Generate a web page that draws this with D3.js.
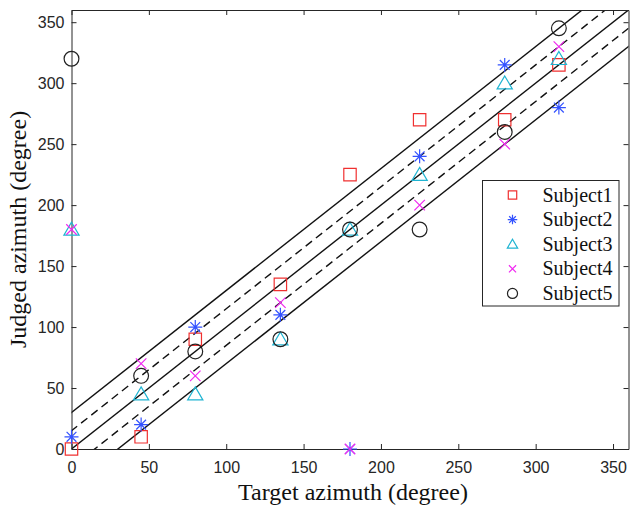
<!DOCTYPE html>
<html>
<head>
<meta charset="utf-8">
<script src="https://cdn.jsdelivr.net/npm/d3@7"></script>
<style>
  body { margin: 0; background: #fff; }
  .tick text { font-family: "Liberation Sans", Arial, sans-serif; font-size: 16px; fill: #262626; }
  .axis path, .axis line { stroke: #262626; stroke-width: 1; }
</style>
</head>
<body>
<svg width="630" height="509"></svg>
<script>
// target azimuths (x) and judged azimuths per subject (y)
const targets = [0, 45, 80, 135, 180, 225, 280, 315];
const subject1 = [0, 10, 90, 135, 225, 270, 270, 315];
const subject2 = [10, 20, 100, 110, 0, 240, 315, 280];
const subject3 = [180, 45, 45, 90, 180, 225, 300, 320];
const subject4 = [180, 70, 60, 120, 0, 200, 250, 330];
const subject5 = [320, 60, 80, 90, 180, 180, 260, 345];
const subjectNames = ["Subject1", "Subject2", "Subject3", "Subject4", "Subject5"];
const xTicks = [0, 50, 100, 150, 200, 250, 300, 350];
const yTicks = [0, 50, 100, 150, 200, 250, 300, 350];
// reference lines y = x + offset
const lineOffsets = [-30, -15, 0, 15, 30];
const lineDashed = [false, true, false, true, false];

const svg = d3.select("svg");

const x = d3.scaleLinear().domain([0, 360]).range([71.5, 628.5]);
const y = d3.scaleLinear().domain([0, 360]).range([449, 10]);

// clip for the reference lines
svg.append("defs").append("clipPath").attr("id", "plotClip")
  .append("rect")
  .attr("x", x(0)).attr("y", y(360))
  .attr("width", x(360) - x(0)).attr("height", y(0) - y(360));

const lines = svg.append("g").attr("clip-path", "url(#plotClip)");
lineOffsets.forEach((off, i) => {
  lines.append("line")
    .attr("x1", x(-40)).attr("y1", y(-40 + off))
    .attr("x2", x(400)).attr("y2", y(400 + off))
    .attr("stroke", "#111")
    .attr("stroke-width", 1.4)
    .attr("stroke-dasharray", lineDashed[i] ? "8,5" : null);
});

// axes, ticks pointing inward
svg.append("g").attr("class", "axis")
  .attr("transform", `translate(0,${y(0)})`)
  .call(d3.axisBottom(x).tickValues(xTicks).tickSize(-5).tickSizeOuter(0).tickPadding(13));
svg.append("g").attr("class", "axis")
  .attr("transform", `translate(${x(0)},0)`)
  .call(d3.axisLeft(y).tickValues(yTicks).tickSize(-5).tickSizeOuter(0).tickPadding(7));
svg.append("g").attr("class", "axis")
  .attr("transform", `translate(0,${y(360)})`)
  .call(d3.axisTop(x).tickValues(xTicks).tickSize(-5).tickSizeOuter(0).tickFormat(""));
svg.append("g").attr("class", "axis")
  .attr("transform", `translate(${x(360)},0)`)
  .call(d3.axisRight(y).tickValues(yTicks).tickSize(-5).tickSizeOuter(0).tickFormat(""));

// marker shapes, s = half size
const markers = [
  { color: "#f03030", path: s => `M${-s},${-s}H${s}V${s}H${-s}Z` },
  { color: "#3352ff", path: s => `M0,${-s}V${s}M${-s},0H${s}M${-s*0.7},${-s*0.7}L${s*0.7},${s*0.7}M${-s*0.7},${s*0.7}L${s*0.7},${-s*0.7}` },
  { color: "#1fb4d2", path: s => `M0,${-s*0.95}L${s},${s*0.75}H${-s}Z` },
  { color: "#f028f0", path: s => `M${-s*0.75},${-s*0.75}L${s*0.75},${s*0.75}M${-s*0.75},${s*0.75}L${s*0.75},${-s*0.75}` },
  { color: "#222", path: s => `M${-s},0A${s},${s} 0 1,0 ${s},0A${s},${s} 0 1,0 ${-s},0Z` }
];
const markerSize = [6.2, 7, 7.6, 7, 7.4];
const series = [subject1, subject2, subject3, subject4, subject5];

series.forEach((vals, k) => {
  svg.append("g").selectAll("path")
    .data(vals)
    .enter()
    .append("path")
    .attr("transform", (d, i) => `translate(${x(targets[i])},${y(d)})`)
    .attr("d", markers[k].path(markerSize[k]))
    .attr("fill", "none")
    .attr("stroke", markers[k].color)
    .attr("stroke-width", 1.2);
});

// legend
const legend = svg.append("g");
legend.append("rect")
  .attr("x", 482.5).attr("y", 180.5)
  .attr("width", 136.5).attr("height", 125.5)
  .attr("fill", "#fff").attr("stroke", "#262626").attr("stroke-width", 1);
subjectNames.forEach((name, k) => {
  const ly = 195 + k * 24.6;
  legend.append("path")
    .attr("transform", `translate(512.5,${ly})`)
    .attr("d", markers[k].path(markerSize[k] * 0.68))
    .attr("fill", "none")
    .attr("stroke", markers[k].color)
    .attr("stroke-width", 1.2);
  legend.append("text")
    .attr("x", 542.5).attr("y", ly + 6.5)
    .attr("font-family", "'Liberation Serif', 'Times New Roman', serif")
    .attr("font-size", 20)
    .attr("fill", "#111")
    .text(name);
});

// axis titles
svg.append("text")
  .attr("x", (x(0) + x(360)) / 2 + 3).attr("y", 500)
  .attr("text-anchor", "middle")
  .attr("font-family", "'Liberation Serif', 'Times New Roman', serif")
  .attr("font-size", 24)
  .attr("fill", "#111")
  .text("Target azimuth (degree)");
svg.append("text")
  .attr("transform", `translate(26,${(y(0) + y(360)) / 2}) rotate(-90)`)
  .attr("text-anchor", "middle")
  .attr("font-family", "'Liberation Serif', 'Times New Roman', serif")
  .attr("font-size", 24)
  .attr("fill", "#111")
  .text("Judged azimuth (degree)");
</script>
</body>
</html>
